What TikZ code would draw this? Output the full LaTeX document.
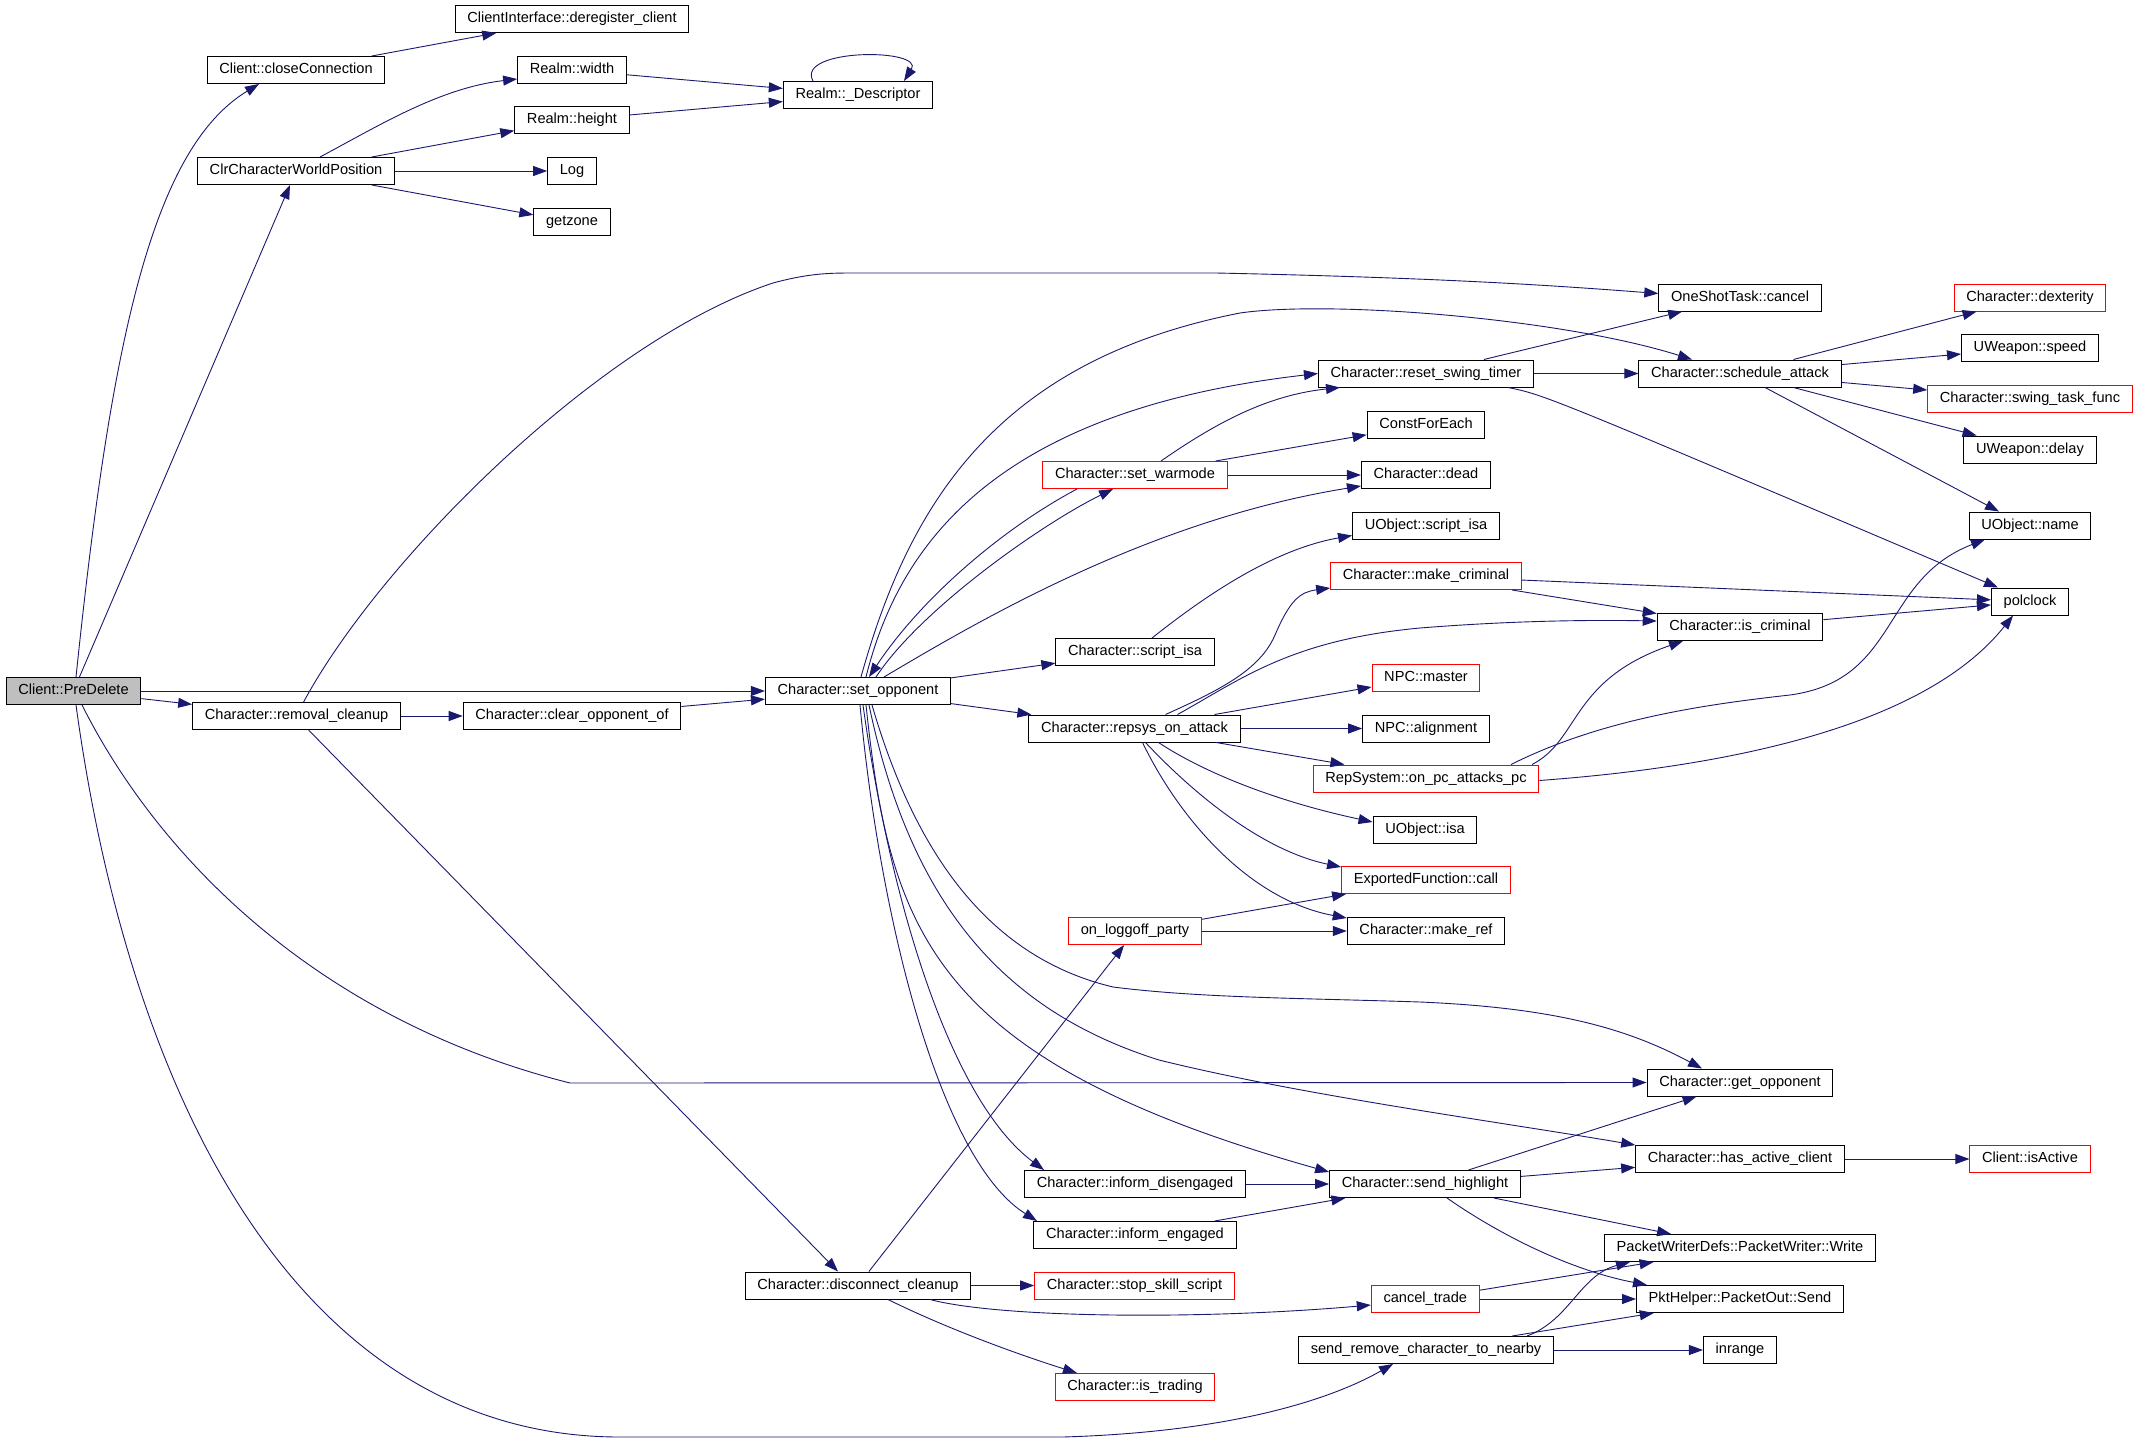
\documentclass[tikz,border=0pt]{standalone}
\usepackage{fontspec}
\setmainfont{Liberation Sans}
\usetikzlibrary{arrows.meta}
\definecolor{callblue}{RGB}{25,25,112}
\definecolor{rootgray}{RGB}{191,191,191}
\begin{document}
\begin{tikzpicture}[x=1pt,y=-1pt]
\tikzstyle{fn}=[draw=black, line width=1pt, minimum height=27pt, inner xsep=12.2pt, text height=10.5pt, text depth=3pt, font=\fontsize{14.6}{17}\selectfont]
\tikzstyle{fnred}=[fn, draw=red]
\tikzstyle{fnroot}=[fn, fill=rootgray]
\tikzstyle{callarrow}=[-{Triangle[length=14pt,width=10pt]}, draw=callblue, line width=0.9pt]
\path[fill=white,use as bounding box](0,0)rectangle(2139,1445);
\node[fnroot](PD)at(73.5,691){Client::PreDelete};
\foreach \n/\x/\y/\t in {CI/572/19/ClientInterface::deregister\_client, CC/296/70/Client::closeConnection,
  RW/572/70/Realm::width, RH/572/120/Realm::height, CWP/296/171/ClrCharacterWorldPosition,
  LG/572/171/Log, GZ/572/222/getzone, RD/858/95/Realm::\_Descriptor, OSC/1740/297.5/OneShotTask::cancel,
  RST/1426/373.5/Character::reset\_swing\_timer, SA/1740/373.5/Character::schedule\_attack,
  WS/2030/348/UWeapon::speed, WD/2030/449.5/UWeapon::delay, CFE/1426/424.5/ConstForEach,
  CD/1426/475/Character::dead, UOS/1426/525.5/UObject::script\_isa, UON/2030/525.5/UObject::name,
  PC/2030/601.5/polclock, IC/1740/627/Character::is\_criminal, CSI/1135/652/Character::script\_isa,
  SO/858/691/Character::set\_opponent, RC/296.6/716/Character::removal\_cleanup,
  COO/572/716/Character::clear\_opponent\_of, RA/1134.5/728.5/Character::repsys\_on\_attack,
  NA/1426/728.5/NPC::alignment, UOI/1425/830/UObject::isa, CMR/1426/931/Character::make\_ref,
  GO/1740/1082.5/Character::get\_opponent, HAC/1740/1159/Character::has\_active\_client,
  ID/1135/1184/Character::inform\_disengaged, SH/1425/1184/Character::send\_highlight,
  IE/1135/1235/Character::inform\_engaged, PW/1740/1248/PacketWriterDefs::PacketWriter::Write,
  DC/858/1285.5/Character::disconnect\_cleanup, PS/1740/1299/PktHelper::PacketOut::Send,
  SRC/1426/1350/send\_remove\_character\_to\_nearby, IR/1740/1350/inrange}
\node[fn](\n)at(\x,\y){\t};
\foreach \n/\x/\y/\t in {SW/1135/475/Character::set\_warmode, DX/2030/297.5/Character::dexterity,
  STF/2030/399/Character::swing\_task\_func, MC/1426/576/Character::make\_criminal,
  NM/1426/677.5/NPC::master, RSP/1426/778.5/RepSystem::on\_pc\_attacks\_pc,
  EFC/1426/880/ExportedFunction::call, OLP/1135/931/on\_loggoff\_party, CIA/2030/1159/Client::isActive,
  SSS/1134.5/1285.5/Character::stop\_skill\_script, CT/1425.3/1299/cancel\_trade,
  IT/1135/1387/Character::is\_trading}
\node[fnred](\n)at(\x,\y){\t};
\foreach \a/\b in {PD/CWP, PD/SO, PD/RC, CC/CI, CWP/RH, CWP/LG, CWP/GZ, RW/RD, RH/RD, RC/COO, COO/SO,
  SO/CSI, SO/RA, SW/CFE, SW/CD, RST/OSC, RST/SA, SA/DX, SA/WS, SA/STF, SA/WD, RA/NM, RA/NA, RA/RSP,
  MC/PC, MC/IC, IC/PC, OLP/EFC, OLP/CMR, DC/OLP, DC/SSS, ID/SH, IE/SH, SH/GO, SH/HAC, SH/PW, HAC/CIA,
  CT/PW, CT/PS, SRC/PS, SRC/IR}
\draw[callarrow](\a)--(\b);
\draw[callarrow]([xshift=2.5pt]PD.north)..controls(110,350)and(150,150)..([xshift=-37pt]CC.south);
\draw[callarrow]([xshift=8.5pt]PD.south)..controls(160,860)and(320,1020)..(570,1083)--(GO.west);
\draw[callarrow]([xshift=2.5pt]PD.south)..controls(130,1100)and(300,1437)..(620,1437)--(1063,1437)..controls(1230,1432)and(1330,1400)..([xshift=-33pt]SRC.south);
\draw[callarrow]([xshift=24pt]CWP.north)..controls(380,125)and(440,88)..([yshift=-9pt]RW.west);
\draw[callarrow]([xshift=-45pt]RD.north)..controls(795,48)and(925,48)..([xshift=46pt]RD.north);
\draw[callarrow]([xshift=7pt]RC.north)..controls(380,560)and(600,340)..(773,283)..controls(810,273)and(830,273)..(856,273)--(1216,273)..controls(1450,278)and(1560,286)..([yshift=4pt]OSC.west);
\draw[callarrow]([xshift=12pt]RC.south)--([xshift=-20pt]DC.north);
\draw[callarrow]([xshift=3pt]SO.north)..controls(910,500)and(1000,360)..(1240,313)..controls(1330,300)and(1560,318)..([xshift=-48pt]SA.north);
\draw[callarrow]([xshift=8pt]SO.north)..controls(900,540)and(1000,410)..(RST.west);
\draw[callarrow]([xshift=18pt]SO.north)..controls(920,610)and(1040,525)..([xshift=-22pt]SW.south);
\draw[callarrow]([xshift=-58pt]SW.south)..controls(1000,530)and(920,600)..([xshift=11pt]SO.north);
\draw[callarrow]([xshift=26pt]SO.north)..controls(980,620)and(1150,520)..([yshift=3pt]CD.south west);
\draw[callarrow]([xshift=2pt]SO.south)..controls(880,920)and(940,1160)..([xshift=-98pt]IE.north);
\draw[callarrow]([xshift=5pt]SO.south)..controls(890,900)and(950,1100)..([xshift=-91pt]ID.north);
\draw[callarrow]([xshift=8pt]SO.south)..controls(890,930)and(930,1060)..([yshift=-2pt]SH.north west);
\draw[callarrow]([xshift=11pt]SO.south)..controls(910,900)and(1000,1010)..(1159,1060)..controls(1300,1095)and(1500,1122)..(HAC.north west);
\draw[callarrow]([xshift=14pt]SO.south)..controls(920,870)and(1000,960)..(1113,987)..controls(1200,998)and(1300,998)..(1420,1002)..controls(1560,1008)and(1630,1030)..([xshift=-38pt]GO.north);
\draw[callarrow]([xshift=26pt]SW.north)..controls(1220,420)and(1270,395)..([xshift=-86pt]RST.south);
\draw[callarrow]([xshift=82pt]RST.south)..controls(1545,395)..([xshift=-32pt]PC.north);
\draw[callarrow]([xshift=25pt]SA.south)--([xshift=-31pt]UON.north);
\draw[callarrow]([xshift=17pt]CSI.north)..controls(1200,600)and(1270,550)..([yshift=-10pt]UOS.west);
\draw[callarrow]([xshift=31pt]RA.north)..controls(1220,690)and(1260,670)..(1275,635)..controls(1290,600)and(1300,592)..([yshift=-12pt]MC.west);
\draw[callarrow]([xshift=43pt]RA.north)..controls(1240,680)and(1290,640)..(1420,628)..controls(1520,620)and(1600,620)..([yshift=6pt]IC.west);
\draw[callarrow]([xshift=24pt]RA.south)..controls(1200,770)and(1270,800)..([yshift=8pt]UOI.west);
\draw[callarrow]([xshift=11pt]RA.south)..controls(1190,790)and(1260,850)..([yshift=-1pt]EFC.north west);
\draw[callarrow]([xshift=8pt]RA.south)..controls(1180,820)and(1250,900)..([yshift=-1pt]CMR.north west);
\draw[callarrow]([xshift=106pt]RSP.north)..controls(1580,740)and(1570,680)..([xshift=-57pt]IC.south);
\draw[callarrow]([xshift=85pt]RSP.north)..controls(1600,720)and(1700,705)..(1790,695)..controls(1900,680)and(1880,580)..([xshift=-45pt]UON.south);
\draw[callarrow]([yshift=-2pt]RSP.east)..controls(1750,765)and(1930,720)..([xshift=-17pt]PC.south);
\draw[callarrow]([xshift=72pt]DC.south)..controls(1000,1318)and(1200,1320)..([yshift=-6pt]CT.west);
\draw[callarrow]([xshift=30pt]DC.south)..controls(950,1330)and(1020,1355)..([xshift=-58pt]IT.north);
\draw[callarrow]([xshift=22pt]SH.south)..controls(1500,1235)and(1570,1270)..([xshift=-93pt]PS.north);
\draw[callarrow]([xshift=101pt]SRC.north)..controls(1570,1320)and(1580,1275)..([xshift=-110pt]PW.south);
\end{tikzpicture}
\end{document}
